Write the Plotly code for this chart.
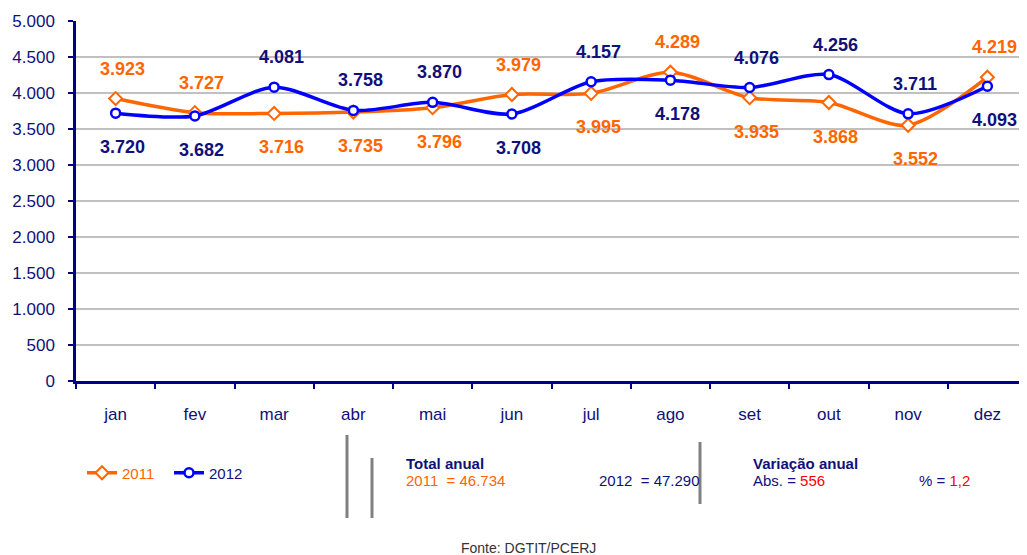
import plotly.graph_objects as go

months = ["jan", "fev", "mar", "abr", "mai", "jun", "jul", "ago", "set", "out", "nov", "dez"]
v2011 = [3923, 3727, 3716, 3735, 3796, 3979, 3995, 4289, 3935, 3868, 3552, 4219]
v2012 = [3720, 3682, 4081, 3758, 3870, 3708, 4157, 4178, 4076, 4256, 3711, 4093]
y_ticks = [0, 500, 1000, 1500, 2000, 2500, 3000, 3500, 4000, 4500, 5000]

ORANGE = "#FF6600"
BLUE = "#0000FF"
NAVY = "#10107A"
FONT = "Liberation Sans, Arial, sans-serif"

fig = go.Figure()
fig.add_trace(go.Scatter(
    x=months, y=v2011, mode="lines+markers",
    name="<span style='color:#FF6600'>2011</span>",
    line=dict(color=ORANGE, width=3.5, shape="spline", smoothing=0.8),
    marker=dict(symbol="diamond", size=10, color="white", line=dict(color=ORANGE, width=2)),
))
fig.add_trace(go.Scatter(
    x=months, y=v2012, mode="lines+markers",
    name="<span style='color:#10107A'>2012</span>",
    line=dict(color=BLUE, width=3.5, shape="spline", smoothing=0.8),
    marker=dict(symbol="circle", size=9, color="white", line=dict(color=BLUE, width=2.5)),
))

def fmt(v):
    return f"{v:,}".replace(",", ".")

annotations = []
for m, a, b in zip(months, v2011, v2012):
    a_up = a >= b
    annotations.append(dict(x=m, y=a, xref="x", yref="y", text=f"<b>{fmt(a)}</b>",
                            showarrow=False, yshift=30 if a_up else -34, xshift=7,
                            font=dict(family=FONT, size=18, color=ORANGE)))
    annotations.append(dict(x=m, y=b, xref="x", yref="y", text=f"<b>{fmt(b)}</b>",
                            showarrow=False, yshift=-34 if a_up else 30, xshift=7,
                            font=dict(family=FONT, size=18, color=NAVY)))

# The page body has an 8px margin; compensate so the picture lands where the reference is.
OFF = 8
W, H = 1027, 555
L, R, T, B = 76, 1027, 21, 381   # plot area in page pixels


def px(xp):
    return (xp - L) / (R - L)


def py(yp):
    return (B - yp) / (B - T)


def ptext(x, y, text, color=NAVY, size=15, anchor="left"):
    annotations.append(dict(x=x, y=y, xref="paper", yref="paper", text=text, showarrow=False,
                            xanchor=anchor, yanchor="middle", font=dict(family=FONT, size=size, color=color)))


ptext(px(404), py(463), "<b>Total anual</b>")
ptext(px(404), py(481), "2011  = 46.734", color=ORANGE)
ptext(px(597), py(481), "2012  = 47.290")
ptext(px(751), py(463), "<b>Variação anual</b>")
ptext(px(751), py(481), "Abs. = <span style='color:#FF0000'>556</span>")
ptext(px(917), py(481), "% = <span style='color:#FF0000'>1,2</span>")
ptext(px(528), py(548), "Fonte: DGTIT/PCERJ", color="#333333", size=14, anchor="center")

shapes = []
for xp, y0, y1 in [(347, 435, 518), (372, 458, 518), (700, 442, 504)]:
    shapes.append(dict(type="line", xref="paper", yref="paper", x0=px(xp), x1=px(xp),
                       y0=py(y0), y1=py(y1), line=dict(color="#808080", width=3)))

fig.update_layout(
    width=W - OFF, height=H - OFF,
    margin=dict(l=L - OFF, r=W - R, t=T - OFF, b=H - B, autoexpand=False),
    paper_bgcolor="white", plot_bgcolor="white",
    separators=",.",
    font=dict(family=FONT, color=NAVY, size=16),
    showlegend=True,
    legend=dict(orientation="h", x=px(82), y=py(473), xanchor="left", yanchor="middle",
                font=dict(family=FONT, size=15), tracegroupgap=0, entrywidth=42,
                bgcolor="rgba(0,0,0,0)"),
    annotations=annotations,
    shapes=shapes,
    xaxis=dict(
        range=[-0.5, len(months) - 0.5],
        showline=True, linecolor="#000080", linewidth=2.5,
        ticks="outside", tickson="boundaries", ticklen=5, tickwidth=2, tickcolor="#000080",
        showgrid=False, tickfont=dict(size=17, color=NAVY), ticklabelstandoff=16,
    ),
    yaxis=dict(
        range=[0, 5000], tickvals=y_ticks, tickformat=",d",
        showline=True, linecolor="#000080", linewidth=2.5,
        ticks="outside", ticklen=5, tickwidth=2, tickcolor="#000080",
        showgrid=True, gridcolor="#C0C0C0", gridwidth=2,
        tickfont=dict(size=17, color=NAVY), ticklabelstandoff=10,
        zeroline=False,
    ),
)

fig.write_html("out.html")
